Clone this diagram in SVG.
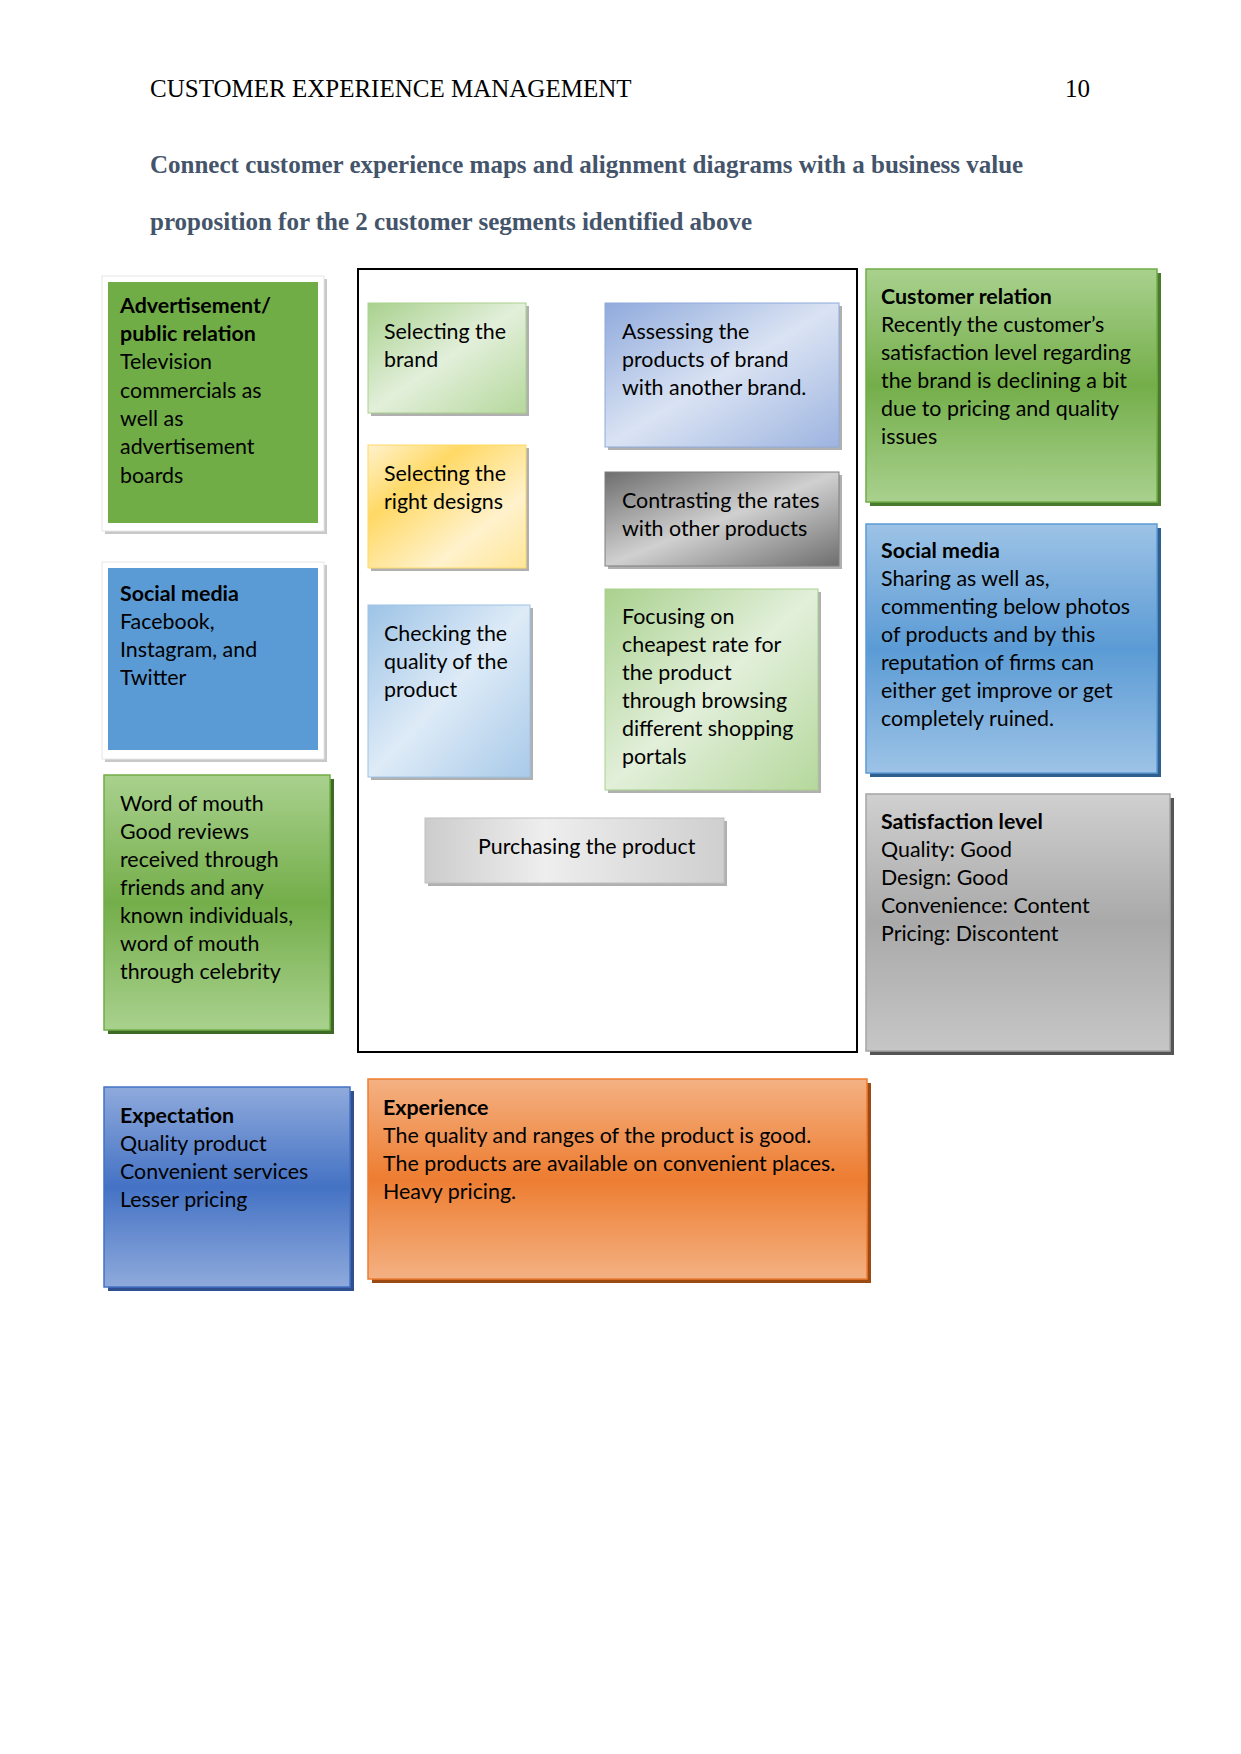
<svg xmlns="http://www.w3.org/2000/svg" width="1241" height="1754" viewBox="0 0 1241 1754">
<defs>
<linearGradient id="gGreenV" x1="0" y1="0" x2="0" y2="1"><stop offset="0" stop-color="#A9D18E"/><stop offset="0.5" stop-color="#74AE4A"/><stop offset="1" stop-color="#A9D18E"/></linearGradient>
<linearGradient id="gBlueV" x1="0" y1="0" x2="0" y2="1"><stop offset="0" stop-color="#9DC3E6"/><stop offset="0.5" stop-color="#5B9BD5"/><stop offset="1" stop-color="#9DC3E6"/></linearGradient>
<linearGradient id="gGreyV" x1="0" y1="0" x2="0" y2="1"><stop offset="0" stop-color="#D0D0D0"/><stop offset="0.5" stop-color="#A9A9A9"/><stop offset="1" stop-color="#C6C6C6"/></linearGradient>
<linearGradient id="gNavyV" x1="0" y1="0" x2="0" y2="1"><stop offset="0" stop-color="#8FAADC"/><stop offset="0.5" stop-color="#4472C4"/><stop offset="1" stop-color="#8FAADC"/></linearGradient>
<linearGradient id="gOrangeV" x1="0" y1="0" x2="0" y2="1"><stop offset="0" stop-color="#F4B183"/><stop offset="0.5" stop-color="#ED7D31"/><stop offset="1" stop-color="#F4B183"/></linearGradient>
<linearGradient id="gLGreen" x1="0" y1="0" x2="1" y2="1"><stop offset="0" stop-color="#A9D18E"/><stop offset="0.5" stop-color="#E2EFDA"/><stop offset="1" stop-color="#B5D89C"/></linearGradient>
<linearGradient id="gLYellow" x1="0" y1="0" x2="1" y2="1"><stop offset="0" stop-color="#FFF2CC"/><stop offset="0.3" stop-color="#FFD966"/><stop offset="0.7" stop-color="#FFF2CC"/><stop offset="1" stop-color="#FFE699"/></linearGradient>
<linearGradient id="gLBlue" x1="0" y1="0" x2="1" y2="1"><stop offset="0" stop-color="#8FAADC"/><stop offset="0.5" stop-color="#DAE3F3"/><stop offset="1" stop-color="#9DB4E0"/></linearGradient>
<linearGradient id="gLSky" x1="0" y1="0" x2="1" y2="1"><stop offset="0" stop-color="#9DC3E6"/><stop offset="0.5" stop-color="#DEEBF7"/><stop offset="1" stop-color="#A8CAE9"/></linearGradient>
<linearGradient id="gDGrey" x1="0" y1="0" x2="1" y2="1"><stop offset="0" stop-color="#6E6E6E"/><stop offset="0.5" stop-color="#D0D0D0"/><stop offset="1" stop-color="#6E6E6E"/></linearGradient>
<linearGradient id="gLGrey" x1="0" y1="0" x2="1" y2="0"><stop offset="0" stop-color="#CCCCCC"/><stop offset="0.4" stop-color="#EEEEEE"/><stop offset="1" stop-color="#CFCFCF"/></linearGradient>
</defs>
<style>
.hdr{font-family:"Liberation Serif",serif;font-size:25px;fill:#000}
.ttl{font-family:"Liberation Serif",serif;font-size:25px;font-weight:bold;fill:#44546A}
.t{font-family:Lato,"Liberation Sans",sans-serif;font-size:21.4px;fill:#000}
.b{font-weight:bold}
.sh{fill:#B0B0B0}
</style>
<rect width="1241" height="1754" fill="#fff"/>
<text class="hdr" x="150" y="97">CUSTOMER EXPERIENCE MANAGEMENT</text>
<text class="hdr" x="1065" y="97">10</text>
<text class="ttl" x="150" y="173">Connect customer experience maps and alignment diagrams with a business value</text>
<text class="ttl" x="150" y="230">proposition for the 2 customer segments identified above</text>

<g id="frame"><rect x="358" y="269" width="499" height="783" fill="none" stroke="#000" stroke-width="2"/></g>

<g id="adv">
<rect x="105" y="279" width="222" height="255" fill="#C8C8C8"/>
<rect x="102" y="276" width="222" height="255" fill="#fff" stroke="#E6E6E6"/>
<rect x="108" y="282" width="210" height="241" fill="#70AD47"/>
<text class="t"><tspan class="b" x="120" y="313">Advertisement/</tspan><tspan class="b" x="120" y="341">public relation</tspan><tspan x="120" y="369">Television</tspan><tspan x="120" y="398">commercials as</tspan><tspan x="120" y="426">well as</tspan><tspan x="120" y="454">advertisement</tspan><tspan x="120" y="483">boards</tspan></text>
</g>

<g id="social-left">
<rect x="105" y="565" width="222" height="197" fill="#C8C8C8"/>
<rect x="102" y="562" width="222" height="197" fill="#fff" stroke="#E6E6E6"/>
<rect x="108" y="568" width="210" height="182" fill="#5B9BD5"/>
<text class="t"><tspan class="b" x="120" y="601">Social media</tspan><tspan x="120" y="629">Facebook,</tspan><tspan x="120" y="657">Instagram, and</tspan><tspan x="120" y="685">Twitter</tspan></text>
</g>

<g id="word-of-mouth">
<rect x="108" y="779" width="226" height="255" fill="#3F6A26"/>
<rect x="104" y="775" width="226" height="255" fill="url(#gGreenV)" stroke="#70AD47" stroke-width="1.5"/>
<text class="t"><tspan x="120" y="811">Word of mouth</tspan><tspan x="120" y="839">Good reviews</tspan><tspan x="120" y="867">received through</tspan><tspan x="120" y="895">friends and any</tspan><tspan x="120" y="923">known individuals,</tspan><tspan x="120" y="951">word of mouth</tspan><tspan x="120" y="979">through celebrity</tspan></text>
</g>

<g id="selecting-brand">
<rect class="sh" x="371" y="306" width="158" height="110"/>
<rect x="368" y="303" width="158" height="110" fill="url(#gLGreen)" stroke="#A9D18E"/>
<text class="t"><tspan x="384" y="339">Selecting the</tspan><tspan x="384" y="367">brand</tspan></text>
</g>

<g id="assessing">
<rect class="sh" x="608" y="306" width="234" height="144"/>
<rect x="605" y="303" width="234" height="144" fill="url(#gLBlue)" stroke="#8FAADC"/>
<text class="t"><tspan x="622" y="339">Assessing the</tspan><tspan x="622" y="367">products of brand</tspan><tspan x="622" y="395">with another brand.</tspan></text>
</g>

<g id="selecting-designs">
<rect class="sh" x="371" y="448" width="158" height="123"/>
<rect x="368" y="445" width="158" height="123" fill="url(#gLYellow)" stroke="#FFD966"/>
<text class="t"><tspan x="384" y="481">Selecting the</tspan><tspan x="384" y="509">right designs</tspan></text>
</g>

<g id="contrasting">
<rect class="sh" x="608" y="475" width="234" height="94"/>
<rect x="605" y="472" width="234" height="94" fill="url(#gDGrey)" stroke="#7F7F7F"/>
<text class="t"><tspan x="622" y="508">Contrasting the rates</tspan><tspan x="622" y="536">with other products</tspan></text>
</g>

<g id="checking">
<rect class="sh" x="371" y="608" width="162" height="172"/>
<rect x="368" y="605" width="162" height="172" fill="url(#gLSky)" stroke="#9DC3E6"/>
<text class="t"><tspan x="384" y="641">Checking the</tspan><tspan x="384" y="669">quality of the</tspan><tspan x="384" y="697">product</tspan></text>
</g>

<g id="focusing">
<rect class="sh" x="608" y="592" width="213" height="201"/>
<rect x="605" y="589" width="213" height="201" fill="url(#gLGreen)" stroke="#A9D18E"/>
<text class="t"><tspan x="622" y="624">Focusing on</tspan><tspan x="622" y="652">cheapest rate for</tspan><tspan x="622" y="680">the product</tspan><tspan x="622" y="708">through browsing</tspan><tspan x="622" y="736">different shopping</tspan><tspan x="622" y="764">portals</tspan></text>
</g>

<g id="purchasing">
<rect class="sh" x="428" y="821" width="299" height="65"/>
<rect x="425" y="818" width="299" height="65" fill="url(#gLGrey)" stroke="#BFBFBF"/>
<text class="t" x="478" y="854">Purchasing the product</text>
</g>

<g id="customer-relation">
<rect x="870" y="273" width="291" height="233" fill="#4A7A2C"/>
<rect x="866" y="269" width="291" height="233" fill="url(#gGreenV)" stroke="#70AD47" stroke-width="1.5"/>
<text class="t"><tspan class="b" x="881" y="304">Customer relation</tspan><tspan x="881" y="332">Recently the customer’s</tspan><tspan x="881" y="360">satisfaction level regarding</tspan><tspan x="881" y="388">the brand is declining a bit</tspan><tspan x="881" y="416">due to pricing and quality</tspan><tspan x="881" y="444">issues</tspan></text>
</g>

<g id="social-right">
<rect x="870" y="528" width="291" height="249" fill="#2E5F8F"/>
<rect x="866" y="524" width="291" height="249" fill="url(#gBlueV)" stroke="#5B9BD5" stroke-width="1.5"/>
<text class="t"><tspan class="b" x="881" y="558">Social media</tspan><tspan x="881" y="586">Sharing as well as,</tspan><tspan x="881" y="614">commenting below photos</tspan><tspan x="881" y="642">of products and by this</tspan><tspan x="881" y="670">reputation of firms can</tspan><tspan x="881" y="698">either get improve or get</tspan><tspan x="881" y="726">completely ruined.</tspan></text>
</g>

<g id="satisfaction">
<rect x="870" y="798" width="304" height="257" fill="#555"/>
<rect x="866" y="794" width="304" height="257" fill="url(#gGreyV)" stroke="#A5A5A5" stroke-width="1.5"/>
<text class="t"><tspan class="b" x="881" y="829">Satisfaction level</tspan><tspan x="881" y="857">Quality: Good</tspan><tspan x="881" y="885">Design: Good</tspan><tspan x="881" y="913">Convenience: Content</tspan><tspan x="881" y="941">Pricing: Discontent</tspan></text>
</g>

<g id="expectation">
<rect x="108" y="1091" width="246" height="200" fill="#2F4F8F"/>
<rect x="104" y="1087" width="246" height="200" fill="url(#gNavyV)" stroke="#4472C4" stroke-width="1.5"/>
<text class="t"><tspan class="b" x="120" y="1123">Expectation</tspan><tspan x="120" y="1151">Quality product</tspan><tspan x="120" y="1179">Convenient services</tspan><tspan x="120" y="1207">Lesser pricing</tspan></text>
</g>

<g id="experience">
<rect x="372" y="1083" width="499" height="200" fill="#9C4A14"/>
<rect x="368" y="1079" width="499" height="200" fill="url(#gOrangeV)" stroke="#ED7D31" stroke-width="1.5"/>
<text class="t"><tspan class="b" x="383" y="1115">Experience</tspan><tspan x="383" y="1143">The quality and ranges of the product is good.</tspan><tspan x="383" y="1171">The products are available on convenient places.</tspan><tspan x="383" y="1199">Heavy pricing.</tspan></text>
</g>

<g id="connectors"></g>
</svg>
